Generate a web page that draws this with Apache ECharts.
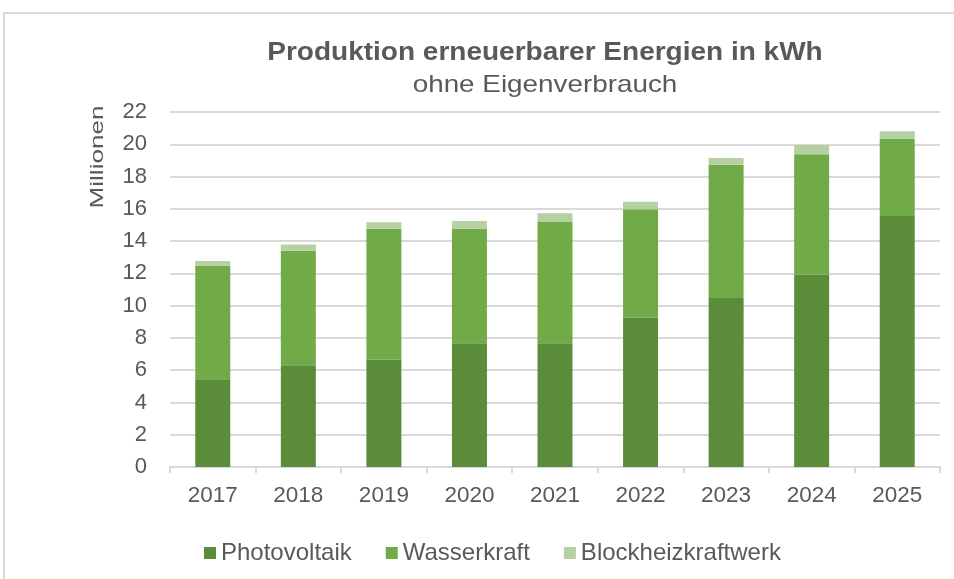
<!DOCTYPE html>
<html>
<head>
<meta charset="utf-8">
<script src="https://cdn.jsdelivr.net/npm/echarts@6/dist/echarts.min.js"></script>
<style>html,body{margin:0;padding:0;background:#fff;}#c{width:954px;height:579px;}</style>
</head>
<body>
<div id="c"></div>
<script>
const categories = ['2017','2018','2019','2020','2021','2022','2023','2024','2025'];
const photovoltaik = [5.44, 6.31, 6.64, 7.67, 7.67, 9.27, 10.47, 11.91, 15.55];
const wasserkraft = [7.03, 7.09, 8.13, 7.10, 7.55, 6.70, 8.26, 7.47, 4.78];
const blockheizkraftwerk = [0.29, 0.39, 0.39, 0.47, 0.50, 0.47, 0.42, 0.58, 0.48];
const seriesNames = ['Photovoltaik', 'Wasserkraft', 'Blockheizkraftwerk'];
const titleText = 'Produktion erneuerbarer Energien in kWh';
const subtitleText = 'ohne Eigenverbrauch';
const yAxisName = 'Millionen';

const font = "'Liberation Sans', Arial, sans-serif";
const textColor = '#595959';
const colors = ['#5b8c39', '#71ab48', '#b5d0a3'];

const chart = echarts.init(document.getElementById('c'), null, {renderer: 'canvas'});
const mk = (name, data, color) => ({
  name: name, type: 'bar', stack: 'total', data: data, barWidth: 35,
  itemStyle: {color: color}, emphasis: {disabled: true}
});
chart.setOption({
  animation: false,
  textStyle: {fontFamily: font},
  graphic: [
    {type: 'rect', shape: {x: 4, y: 13, width: 1000, height: 700}, silent: true,
     style: {fill: 'none', stroke: '#d9d9d9', lineWidth: 2}},
    {type: 'text', x: 545, y: 53, scaleX: 1.12, silent: true,
     style: {text: titleText, fontFamily: font, fontSize: 25, fontWeight: 'bold', fill: textColor,
             align: 'center', verticalAlign: 'middle'}},
    {type: 'text', x: 545, y: 85.5, scaleX: 1.16, silent: true,
     style: {text: subtitleText, fontFamily: font, fontSize: 24, fill: textColor,
             align: 'center', verticalAlign: 'middle'}},
    {type: 'text', x: 98, y: 157, rotation: Math.PI / 2, scaleX: 1.45, silent: true,
     style: {text: yAxisName, fontFamily: font, fontSize: 18, fill: textColor,
             align: 'center', verticalAlign: 'middle'}}
  ],
  legend: {
    data: seriesNames, top: 536, left: 199, itemWidth: 12, itemHeight: 12, itemGap: 34,
    icon: 'rect', textStyle: {fontFamily: font, fontSize: 24, color: textColor, padding: [0,0,0,0]}
  },
  grid: {left: 170, right: 14, top: 112, bottom: 112},
  xAxis: {
    type: 'category', data: categories,
    axisLine: {lineStyle: {color: '#d9d9d9', width: 2}},
    axisTick: {show: true, length: 6, lineStyle: {color: '#d9d9d9', width: 2}},
    axisLabel: {fontFamily: font, fontSize: 22.5, color: textColor, margin: 17}
  },
  yAxis: {
    type: 'value', min: 0, max: 22, interval: 2,
    axisLine: {show: false}, axisTick: {show: false},
    splitLine: {lineStyle: {color: '#d9d9d9', width: 2}},
    axisLabel: {fontFamily: font, fontSize: 22, color: textColor, margin: 23}
  },
  series: [
    mk(seriesNames[0], photovoltaik, colors[0]),
    mk(seriesNames[1], wasserkraft, colors[1]),
    mk(seriesNames[2], blockheizkraftwerk, colors[2])
  ]
});
</script>
</body>
</html>
